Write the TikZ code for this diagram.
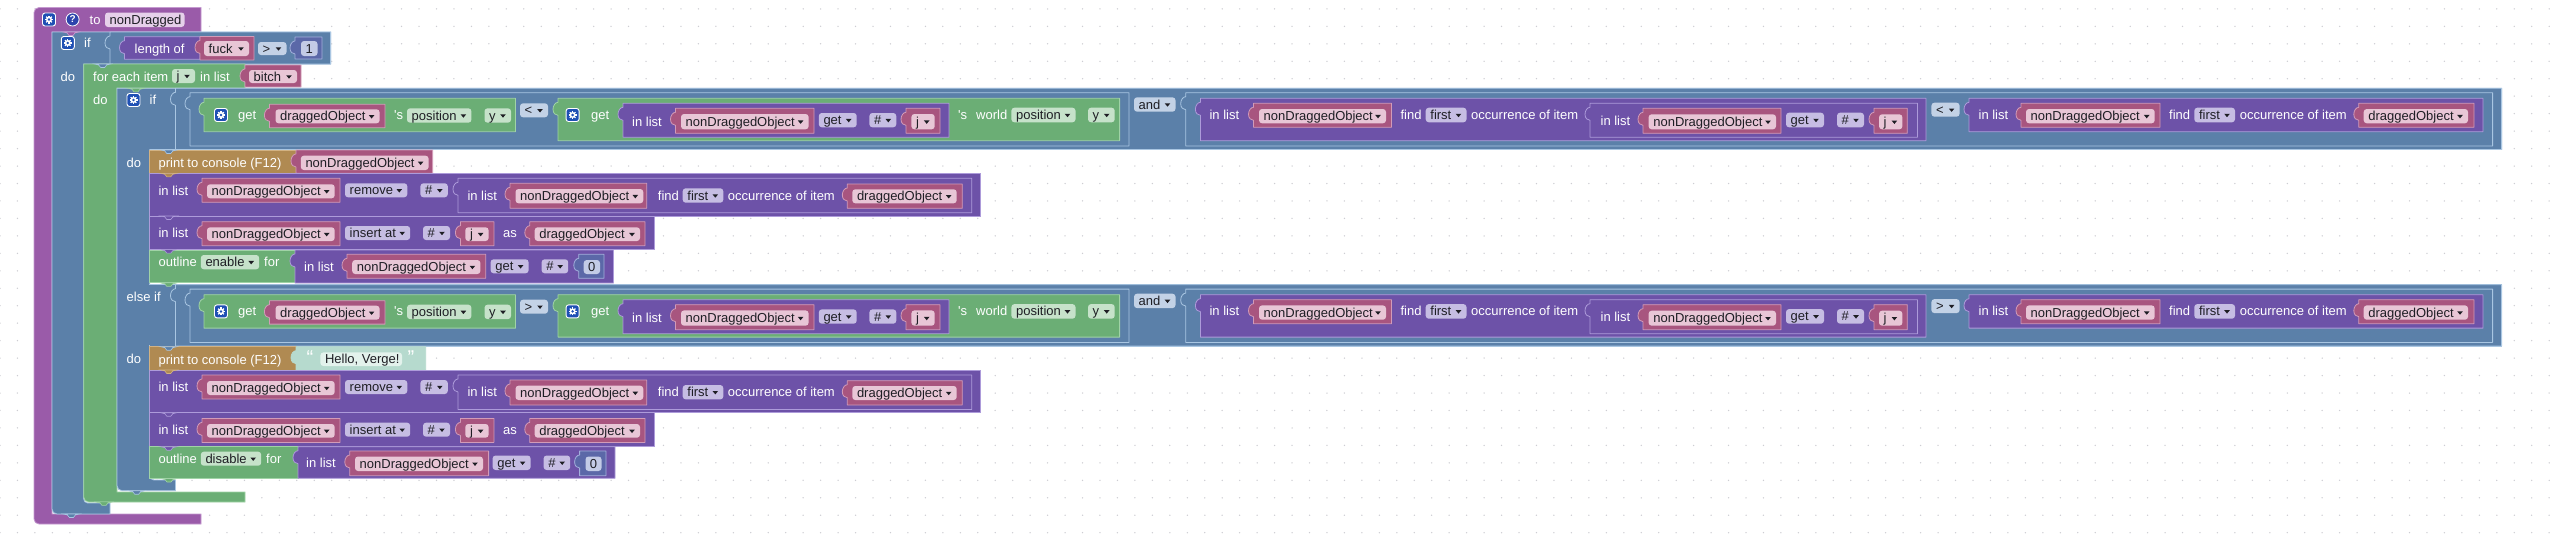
\documentclass[tikz,border=0pt]{standalone}
\usepackage{fontspec}
\setmainfont{Liberation Sans}
\newfontfamily\sqf{Liberation Sans}
\definecolor{PR}{HTML}{9A5BA9}\definecolor{PRL}{HTML}{C59AD0}
\definecolor{BL}{HTML}{5B80A9}\definecolor{BLL}{HTML}{A9C6E2}
\definecolor{GR}{HTML}{6BAE75}\definecolor{GRL}{HTML}{A0D3A6}
\definecolor{LI}{HTML}{6D52A8}\definecolor{LIL}{HTML}{AD9BDA}
\definecolor{PK}{HTML}{A8557F}\definecolor{PKL}{HTML}{D29BB8}
\definecolor{TN}{HTML}{B08A52}\definecolor{TNL}{HTML}{D2B283}
\definecolor{NM}{HTML}{5B68A8}\definecolor{NML}{HTML}{A3B0DC}
\definecolor{TE}{HTML}{B6DACE}\definecolor{TEL}{HTML}{B6DACE}
\definecolor{fPR}{HTML}{E6D0EA}\definecolor{fBL}{HTML}{C3D2E6}
\definecolor{fGR}{HTML}{C6E2CA}\definecolor{fLI}{HTML}{C6BDE3}
\definecolor{fPK}{HTML}{E8C6D6}\definecolor{fNM}{HTML}{C3CBE6}
\definecolor{fTE}{HTML}{E3F2EC}\definecolor{INK}{HTML}{1E1E24}
\definecolor{ICON}{HTML}{1F50B4}\definecolor{DOT}{HTML}{CDCDD2}
\newcounter{nn}
\newcommand\blk[5]{%
 \path[fill=#5,draw=#5L,line width=.8pt,line join=round] (#1,#3) -- (#2,#3) -- (#2,#4) -- (#1,#4) -- (#1,{#3+17})
  .. controls ({#1-2.5},{#3+17}) and ({#1-5},{#3+15}) .. ({#1-5},{#3+11})
  .. controls ({#1-5},{#3+7}) and ({#1-2.5},{#3+4}) .. (#1,{#3+4}) -- cycle;}
\newcommand\plain[5]{\path[fill=#5,draw=#5L,line width=.8pt] (#1,#3) rectangle (#2,#4);}
\newcommand\lbl[3]{\stepcounter{nn}\node[anchor=base west,inner sep=0pt,text=white] (n\thenn) at (#1,{#2+4.5}) {#3};}
\newcommand\ftx[6]{\fill[#5,rounded corners=3pt] (#1,#3) rectangle (#2,#4);
 \stepcounter{nn}\node[anchor=base west,inner sep=0pt,text=INK] (n\thenn) at ({#1+4.5},{(#3+#4)/2+4.5}) {#6};}
\newcommand\fdd[6]{\ftx{#1}{#2}{#3}{#4}{#5}{#6}
 \fill[INK] ({#2-10.8},{(#3+#4)/2-1.2}) -- ({#2-5.2},{(#3+#4)/2-1.2}) -- ({#2-8},{(#3+#4)/2+2.2}) -- cycle;}
\newcommand\fnum[5]{\fill[fNM,rounded corners=3pt] (#1,#3) rectangle (#2,#4);
 \stepcounter{nn}\node[anchor=base,inner sep=0pt,text=INK] (n\thenn) at ({(#1+#2)/2},{(#3+#4)/2+4.5}) {#5};}
\newcommand\notch[3]{\path[fill=#3,draw=#3L,line width=.6pt] ({#1-8},#2) -- ({#1-4},{#2+1}) -- ({#1-2},{#2+3.5}) -- ({#1+2},{#2+3.5}) -- ({#1+4},{#2+1}) -- ({#1+8},#2) -- cycle;}
\newcommand\gear[2]{%
 \path[fill=ICON,draw=white,line width=.9pt,rounded corners=2.5pt] ({#1-6.5},{#2-6.5}) rectangle ({#1+6.5},{#2+6.5});
 \foreach \a in {0,45,...,315}{\draw[white,line width=1.2pt] ({#1+2*cos(\a)},{#2+2*sin(\a)}) -- ({#1+4*cos(\a)},{#2+4*sin(\a)});}
 \fill[white] (#1,#2) circle (3pt);\fill[ICON] (#1,#2) circle (1.4pt);}
\newcommand\CondRow[1]{%
 \blk{175.5}{2501.6}{88.3}{149.5}{BL}
 \blk{190}{1129}{92.7}{146}{BL}
 \blk{204}{515.5}{98.3}{131.7}{GR}
 \gear{221}{115}
 \lbl{238}{115}{get}
 \blk{269.4}{385}{104.3}{127.7}{PK}
 \fdd{275.5}{379.6}{109.3}{123.3}{fPK}{draggedObject}
 \lbl{394}{115}{\sqf 's}
 \fdd{407}{471.4}{108.3}{122.7}{fGR}{position}
 \fdd{484.5}{511}{108.3}{122.7}{fGR}{y}
 \fdd{520}{548}{103.3}{117.3}{fBL}{#1}
 \blk{558}{1119.6}{98.3}{140.7}{GR}
 \gear{572.6}{115}
 \lbl{591}{115}{get}
 \blk{623}{949}{103.3}{137.3}{LI}
 \lbl{632}{121.7}{in list}
 \blk{675.5}{814}{108.3}{133.3}{PK}
 \fdd{681}{808.6}{114}{129.3}{fPK}{nonDraggedObject}
 \fdd{818.8}{856.7}{113}{127.3}{fLI}{get}
 \fdd{869.4}{896.3}{113}{127.3}{fLI}{\#}
 \blk{906}{940}{108.3}{133.3}{PK}
 \fdd{911.4}{934.7}{114}{129.3}{fPK}{j}
 \lbl{958}{115}{\sqf 's}
 \lbl{976}{115}{world}
 \fdd{1011.4}{1075.5}{107.7}{122.3}{fGR}{position}
 \fdd{1088}{1114.7}{107.7}{122.3}{fGR}{y}
 \fdd{1134}{1175.5}{97.3}{111.7}{fBL}{and}
 \blk{1185.7}{2492.6}{92.7}{146}{BL}
 \blk{1200.4}{1926}{98.3}{140.7}{LI}
 \lbl{1209.4}{115}{in list}
 \blk{1253.5}{1391.4}{103.3}{127.3}{PK}
 \fdd{1259}{1386}{109}{123.3}{fPK}{nonDraggedObject}
 \lbl{1400.4}{115}{find}
 \fdd{1425.7}{1466.5}{107.7}{122.3}{fLI}{first}
 \lbl{1471}{115}{occurrence of item}
 \blk{1590}{1917.5}{103.3}{137.3}{LI}
 \lbl{1600.4}{120.7}{in list}
 \blk{1643}{1781}{108.3}{133.3}{PK}
 \fdd{1648.6}{1776}{114.3}{129.3}{fPK}{nonDraggedObject}
 \fdd{1786}{1824}{112.7}{127.3}{fLI}{get}
 \fdd{1837}{1864}{112.7}{127.3}{fLI}{\#}
 \blk{1874}{1907.3}{108.3}{133.3}{PK}
 \fdd{1879}{1902.4}{114.3}{129.3}{fPK}{j}
 \fdd{1931.4}{1959.6}{102.7}{116.7}{fBL}{#1}
 \blk{1969}{2483}{98.3}{131.7}{LI}
 \lbl{1978.4}{115}{in list}
 \blk{2021}{2160}{103.3}{127.3}{PK}
 \fdd{2026}{2154.7}{109}{123.3}{fPK}{nonDraggedObject}
 \lbl{2169}{115}{find}
 \fdd{2194.3}{2235}{107.7}{122.3}{fLI}{first}
 \lbl{2239.6}{115}{occurrence of item}
 \blk{2358.8}{2474}{103.3}{127.3}{PK}
 \fdd{2363.7}{2468}{109}{123.3}{fPK}{draggedObject}
}
\newcommand\RemoveInsert{%
 \plain{149.8}{980.7}{173.3}{216}{LI}
 \lbl{158.4}{190.7}{in list}
 \blk{202}{340}{178.3}{202.3}{PK}
 \fdd{207}{334.7}{184.3}{198.3}{fPK}{nonDraggedObject}
 \fdd{345}{407.3}{183.3}{197.3}{fLI}{remove}
 \fdd{420.4}{447.8}{183.3}{197.3}{fLI}{\#}
 \blk{458}{971.7}{178.3}{212.7}{LI}
 \lbl{467.3}{195.7}{in list}
 \blk{510}{646.7}{183.3}{208.3}{PK}
 \fdd{515.5}{643.3}{189}{203.3}{fPK}{nonDraggedObject}
 \lbl{657.7}{195.7}{find}
 \fdd{682.7}{723.3}{188.3}{202.7}{fLI}{first}
 \lbl{727.7}{195.7}{occurrence of item}
 \blk{847.3}{962.3}{184}{208.3}{PK}
 \fdd{852.3}{956.7}{189.3}{203.3}{fPK}{draggedObject}
 \notch{168.8}{173.3}{TN}
 \plain{149.8}{654}{216}{249.3}{LI}
 \lbl{158.4}{233.3}{in list}
 \blk{202}{340}{221.7}{245.7}{PK}
 \fdd{207}{334.7}{227.3}{241}{fPK}{nonDraggedObject}
 \fdd{345}{410.2}{226}{240}{fLI}{insert at}
 \fdd{423}{450}{226}{240}{fLI}{\#}
 \blk{460.4}{493.9}{221.7}{245.7}{PK}
 \fdd{465.3}{488.6}{227.3}{241}{fPK}{j}
 \lbl{502.9}{233.3}{as}
 \blk{529.8}{645}{221.7}{245.7}{PK}
 \fdd{534.7}{640}{227.3}{241}{fPK}{draggedObject}
 \notch{168.8}{216}{LI}
}
\begin{document}
\begin{tikzpicture}[x=1pt,y=-1pt,font=\fontsize{13}{15}\selectfont]
\useasboundingbox (0,0) rectangle (2560,544);
\fill[white] (0,0) rectangle (2560,544);
\foreach \i in {0,...,146}{\foreach \j in {0,...,30}{\fill[DOT] ({\i*17.46},{8.9+\j*17.46}) circle (.75pt);}}
% procedure frame
\path[fill=PR,draw=PRL,line width=.8pt] (201,32) -- (201,7.5) [rounded corners=5pt] -- (34,7.5) -- (34,524) [sharp corners] -- (201,524) -- (201,514) -- (52,514) -- (52,32) -- cycle;
\gear{49}{19.5}
\path[fill=ICON!85!violet,draw=white,line width=.8pt] (72.6,19.5) circle (6.5pt);
\node[inner sep=0pt,text=white,font=\fontsize{10}{12}\selectfont\bfseries] (help) at (72.6,19.5) {?};
\lbl{89.5}{20}{to}
\ftx{105}{184.5}{12.5}{27}{fPR}{nonDragged}
% outer if frame
\path[fill=BL,draw=BLL,line width=.8pt] (330.6,64) -- (330.6,32) -- (52,32) [rounded corners=5pt] -- (52,514) [sharp corners] -- (110,514) -- (110,503) [rounded corners=4pt] -- (83.7,503) [sharp corners] -- (83.7,64) -- cycle;
\notch{71}{32}{PR}
\gear{67.8}{43}
\lbl{84}{43}{if}
\lbl{60.5}{76.7}{do}
\blk{110}{330.6}{32}{64}{BL}
\blk{124.5}{200}{36.7}{59.3}{LI}
\lbl{134.5}{49}{length of}
\blk{200}{254}{36.5}{60}{PK}
\fdd{204}{249}{41}{56}{fPK}{fuck}
\fdd{258}{286.5}{42}{55}{fBL}{>}
\blk{295}{322}{37}{59}{NM}
\fnum{301}{317.5}{41}{56}{1}
% for-each frame
\path[fill=GR,draw=GRL,line width=.8pt] (245,88) -- (245,64) -- (83.7,64) [rounded corners=5pt] -- (83.7,502) [sharp corners] -- (245,502) -- (245,492) -- (117,492) -- (117,88) -- cycle;
\notch{102.7}{64}{BL}
\lbl{93}{77}{for each item}
\fdd{172}{195}{69}{83}{fGR}{j}
\lbl{200}{77}{in list}
\blk{245}{301}{65}{87}{PK}
\fdd{249}{297}{70}{83}{fPK}{bitch}
\lbl{93}{100}{do}
% inner if frame
\path[fill=BL,draw=BLL,line width=.8pt] (2501.6,149.5) -- (2501.6,88.3) -- (117,88.3) [rounded corners=5pt] -- (117,490.7) [sharp corners] -- (175.5,490.7) -- (175.5,480) [rounded corners=4pt] -- (149.8,480) [sharp corners] -- (149.8,149.5) -- cycle;
\plain{149.8}{2501.6}{284.7}{345.9}{BL}
\fill[BL] (118,285.2) rectangle (150,345.4);
\notch{136}{88.3}{GR}
\gear{133.5}{100}
\lbl{149.5}{100}{if}
\CondRow{<}
\lbl{126.5}{162.5}{do}
% first branch
\plain{149.8}{296}{150}{173.3}{TN}
\notch{168.8}{150}{BL}
\lbl{158.4}{163}{print to console (F12)}
\blk{296}{432.6}{150}{173.3}{PK}
\fdd{300.8}{428.6}{155.7}{170}{fPK}{nonDraggedObject}
\RemoveInsert
\plain{149.8}{296}{250}{282.7}{GR}
\lbl{158.4}{262.3}{outline}
\fdd{200.8}{259.2}{255}{269.3}{fGR}{enable}
\lbl{264}{262.3}{for}
\blk{295}{613.5}{250}{283}{LI}
\lbl{304}{266.7}{in list}
\blk{347}{485.7}{254.3}{278.3}{PK}
\fdd{352.2}{480.4}{260}{274}{fPK}{nonDraggedObject}
\fdd{490.6}{528.6}{259.3}{273.3}{fLI}{get}
\fdd{541.6}{568.2}{259.3}{273.3}{fLI}{\#}
\blk{578.8}{604}{254.3}{278.3}{NM}
\fnum{583.7}{600}{260}{274}{0}
\notch{168.8}{249.6}{LI}
\notch{168.8}{282.9}{GR}
% else-if row
\begin{scope}[yshift=-196.4pt]
\CondRow{>}
\end{scope}
\lbl{126.5}{297.3}{else if}
\lbl{126.5}{359}{do}
% second branch
\begin{scope}[yshift=-196.7pt]
\plain{149.8}{296}{150}{173.3}{TN}
\notch{168.8}{150}{BL}
\lbl{158.4}{163}{print to console (F12)}
\blk{296}{425.7}{150}{173.3}{TE}
\node[inner sep=0pt,text=white,font=\fontsize{20}{20}\selectfont] (qa) at (310,161) {“};
\ftx{320.4}{402}{155.7}{169.3}{fTE}{Hello, Verge!}
\node[inner sep=0pt,text=white,font=\fontsize{20}{20}\selectfont] (qb) at (411,161) {”};
\RemoveInsert
\end{scope}
\plain{149.8}{298}{446.7}{478.3}{GR}
\lbl{158.4}{459}{outline}
\fdd{200.8}{261.2}{451.7}{465.7}{fGR}{disable}
\lbl{266}{459}{for}
\blk{298}{615}{446.7}{478.3}{LI}
\lbl{306}{463}{in list}
\blk{349.8}{488.6}{451}{475.7}{PK}
\fdd{355}{483}{456.5}{471}{fPK}{nonDraggedObject}
\fdd{492.6}{530.6}{455.5}{470}{fLI}{get}
\fdd{543.6}{570.2}{455.5}{470}{fLI}{\#}
\blk{579.6}{606}{451}{475.7}{NM}
\fnum{585.5}{601.5}{456.5}{471}{0}
\notch{168.8}{446.7}{LI}
\notch{169}{478.5}{GR}
\notch{136.7}{490.7}{BL}
\notch{104}{501.9}{GR}
\notch{71.4}{514}{BL}
\end{tikzpicture}
\end{document}
